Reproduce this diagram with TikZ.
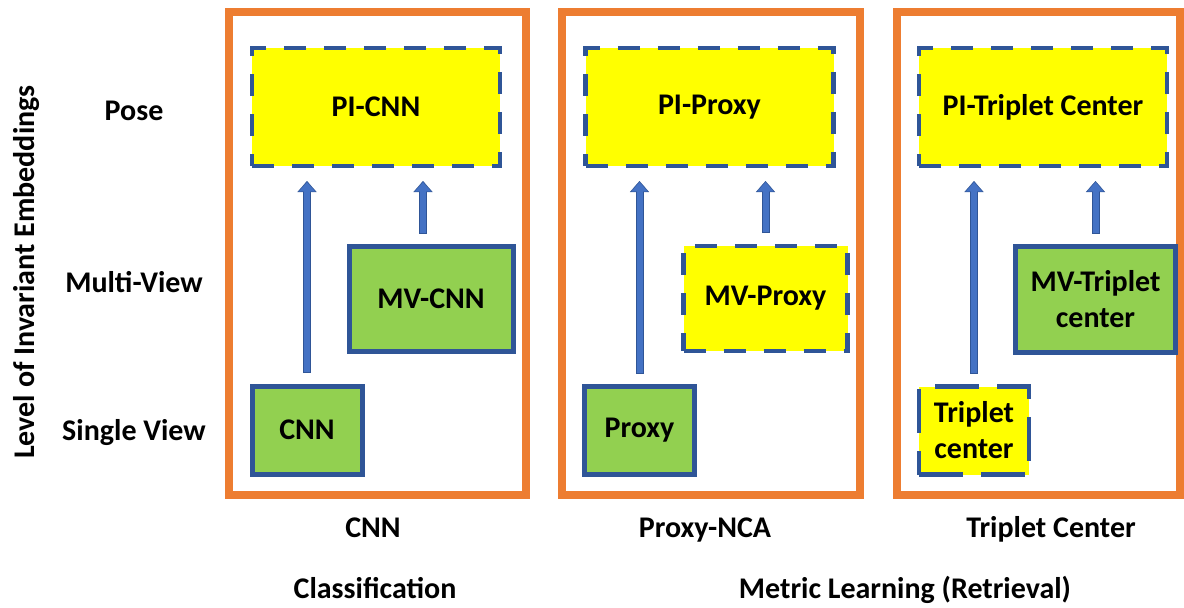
\documentclass[tikz,border=0pt]{standalone}
\usepackage{fontspec}
\setmainfont{Carlito}
\usetikzlibrary{arrows.meta}

\definecolor{frameorange}{HTML}{ED7D31}
\definecolor{boxedge}{HTML}{2F5597}
\definecolor{liftblue}{HTML}{4472C4}
\definecolor{solidgreen}{HTML}{92D050}
\definecolor{openyellow}{HTML}{FFFF00}

\tikzset{
  lbl/.style={font=\fontsize{15pt}{18pt}\selectfont\bfseries, inner sep=0pt, outer sep=0pt},
  solidbox/.style={lbl, draw=boxedge, fill=solidgreen, line width=2.5pt, align=center},
  openbox/.style={lbl, draw=boxedge, fill=openyellow, line width=2.4pt,
    dash pattern=on 11pt off 9pt, align=center},
  posebox/.style={minimum width=124pt, minimum height=59pt},
  multibox/.style={minimum width=82pt, minimum height=52.5pt},
  singlebox/.style={minimum width=55pt, minimum height=44pt},
  panel/.style={draw=frameorange, line width=4pt},
  % block arrow: dark outline first, lighter body on top
  lift/.style={draw=boxedge, line width=4pt, shorten <=6.5pt, shorten >=7.5pt,
    -{Triangle[length=5.5pt,width=9.5pt,line width=0.1pt]},
    postaction={draw=liftblue, line width=3pt, shorten <=7pt, shorten >=8.1pt,
      -{Triangle[length=4.6pt,width=8pt,line width=0.1pt]}}}
}

\begin{document}
\begin{tikzpicture}[x=0.5pt,y=-0.5pt]
  \useasboundingbox (0,0) rectangle (1184,607);

  % the three method panels
  \draw[panel] (229,12) rectangle (526,495);
  \draw[panel] (562,12) rectangle (860,495);
  \draw[panel] (897,12) rectangle (1180,495);

  % levels
  \node[lbl, rotate=90] (axis) at (27,272) {Level of Invariant Embeddings};
  \node[lbl, anchor=base] (lvpose) at (134,120) {Pose};
  \node[lbl, anchor=base] (lvmulti) at (134,292) {Multi-View};
  \node[lbl, anchor=base] (lvsingle) at (134,440) {Single View};

  % classification
  \node[openbox, posebox] (picnn) at (376,107) {PI-CNN};
  \node[solidbox, multibox] (mvcnn) at (431,299) {MV-CNN};
  \node[solidbox, singlebox] (cnn) at (307,430) {CNN};

  % proxy
  \node[openbox, posebox] (piproxy) at (709.5,107) {PI-Proxy};
  \node[openbox, multibox] (mvproxy) at (765.5,298.5) {MV-Proxy};
  \node[solidbox, singlebox] (proxy) at (639.5,430.5) {Proxy};

  % triplet center
  \node[openbox, posebox] (pitriplet) at (1043,107) {PI-Triplet Center};
  \node[solidbox, multibox, minimum width=80pt, minimum height=53pt] (mvtriplet) at (1095.5,299.5) {MV-Triplet\\center};
  \node[openbox, singlebox, dash pattern=on 22pt off 9pt] (triplet) at (974,430.5) {Triplet\\center};

  \draw[lift] (cnn.north) -- (cnn.north |- picnn.south);
  \draw[lift] ([xshift=-4pt]mvcnn.north) -- ([xshift=-4pt]mvcnn.north |- picnn.south);
  \draw[lift] (proxy.north) -- (proxy.north |- piproxy.south);
  \draw[lift] (mvproxy.north) -- (mvproxy.north |- piproxy.south);
  \draw[lift] (triplet.north) -- (triplet.north |- pitriplet.south);
  \draw[lift] (mvtriplet.north) -- (mvtriplet.north |- pitriplet.south);

  % captions under the panels
  \node[lbl, anchor=base] (capcnn) at (373,537) {CNN};
  \node[lbl, anchor=base] (capproxy) at (705,537) {Proxy-NCA};
  \node[lbl, anchor=base] (captriplet) at (1051,537) {Triplet Center};
  \node[lbl, anchor=base] (capclass) at (375,598) {Classification};
  \node[lbl, anchor=base] (capmetric) at (905,598) {Metric Learning (Retrieval)};
\end{tikzpicture}
\end{document}
